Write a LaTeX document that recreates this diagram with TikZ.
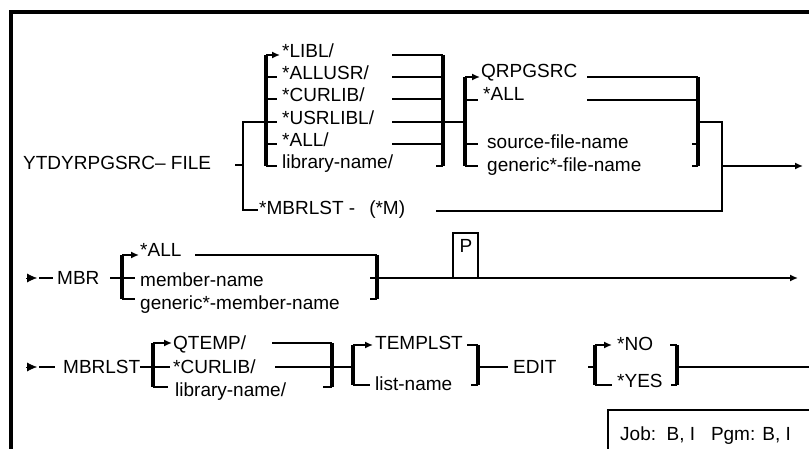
\documentclass[tikz,border=0pt]{standalone}
\usepackage{fontspec}
\setmainfont{Liberation Sans}
\usetikzlibrary{arrows.meta}
\tikzset{>={Latex[length=8pt,width=7pt]}}
\tikzstyle{rail}=[line width=1.5pt]
\tikzstyle{bar}=[line width=3.6pt]
\tikzstyle{frame}=[line width=3.2pt]
\tikzstyle{opt}=[anchor=base west,inner sep=0pt]
\tikzstyle{entry}=[-{Latex[length=10pt,width=9pt]}]

\begin{document}
\begin{tikzpicture}[x=1pt,y=-1pt,font=\fontsize{19}{21}\selectfont]
  \useasboundingbox (0,0) rectangle (809,449);
  % frame round the diagram
  \draw[frame] (11,449) -- (11,12) -- (809,12);

  %%% first line : FILE
  \node[opt] (cmd) at (23,170) {YTDYRPGSRC– FILE};
  \coordinate (fork) at (243,165);
  \coordinate (lib) at (266,122);
  \coordinate (mfork) at (258,210);
  \draw[rail] (235,165) -- (fork);
  \draw[rail] (lib) -| (fork) |- (mfork);
  % library list
  \draw[bar] (266,55) -- (266,166);
  \draw[rail,->] (266,55) -- (280,55);
  \foreach \y in {77,99,122,144,166} \draw[rail] (266,\y) -- (277,\y);
  \foreach \y/\t [count=\i] in {55/{*LIBL/},77/{*ALLUSR/},99/{*CURLIB/},122/{*USRLIBL/},144/{*ALL/},166/{library-name/}}
    \node[opt] (lib\i) at (282,\y+3) {\t};
  \foreach \y in {55,77,99,122,144} \draw[rail] (392,\y) -- (443,\y);
  \draw[rail] (436,166) -- (443,166);
  \draw[bar] (443,55) -- (443,166);
  \draw[rail] (443,122) -- (465,122);
  % source file
  \draw[bar] (465,77) -- (465,166);
  \draw[rail,->] (465,77) -- (480,77);
  \foreach \y in {100,144,166} \draw[rail] (465,\y) -- (478,\y);
  \node[opt] (qrpg) at (481,78) {QRPGSRC};
  \node[opt] (fall) at (483,101) {*ALL};
  \node[opt] (srcf) at (487,149) {source-file-name};
  \node[opt] (genf) at (487,172) {generic*-file-name};
  \foreach \y in {77,100} \draw[rail] (587,\y) -- (698,\y);
  \foreach \y in {144,166} \draw[rail] (692,\y) -- (698,\y);
  \draw[bar] (698,77) -- (698,166);
  % member list path
  \node[opt] (mlst) at (259,215) {*MBRLST -\hspace{14pt}(*M)};
  \coordinate (join) at (722,166);
  \coordinate (end1) at (803,166);
  \draw[rail] (698,122) -| (join) |- (436,211);
  \draw[rail,->] (join) -- (end1);

  %%% second line : MBR
  \coordinate (in2) at (26,278);
  \draw[entry] (in2) -- (37,278);
  \draw[rail] (39,278) -- (53,278);
  \node[opt] (mbr) at (57,285) {MBR};
  \draw[rail] (110,278) -- (135,278);
  \draw[bar] (122,255) -- (122,299);
  \draw[rail,->] (122,255) -- (139,255);
  \draw[rail] (122,299) -- (135,299);
  \node[opt] (mall) at (140,257) {*ALL};
  \node[opt] (mnam) at (140,287) {member-name};
  \node[opt] (mgen) at (140,309) {generic*-member-name};
  \draw[rail] (195,255) -- (377,255);
  \draw[rail] (370,299) -- (377,299);
  \draw[bar] (377,255) -- (377,299);
  \coordinate (end2) at (798,278);
  \draw[rail,->] (370,278) -- (end2);
  % P box on the line
  \draw[rail] (453,278) |- (478,233) -- (478,278);
  \node[anchor=base,inner sep=0pt] (p) at (466,253) {P};

  %%% third line : MBRLST
  \coordinate (in3) at (26,367);
  \draw[entry] (in3) -- (37,367);
  \draw[rail] (39,367) -- (55,367);
  \node[opt] (mbrlst) at (63,373) {MBRLST};
  \draw[rail] (140,367) -- (170,367);
  \draw[bar] (153,343) -- (153,387);
  \draw[rail,->] (153,343) -- (172,343);
  \draw[rail] (153,387) -- (168,387);
  \node[opt] (qtmp) at (173,349) {QTEMP/};
  \node[opt] (cur) at (173,373) {*CURLIB/};
  \node[opt] (lnam) at (175,396) {library-name/};
  \draw[rail] (272,343) -- (332,343);
  \draw[rail] (275,367) -- (353,367);
  \draw[rail] (323,387) -- (332,387);
  \draw[bar] (332,343) -- (332,387);
  % list name
  \draw[bar] (353,345) -- (353,385);
  \draw[rail,->] (353,345) -- (373,345);
  \draw[rail] (353,385) -- (370,385);
  \node[opt] (tmpl) at (375,349) {TEMPLST};
  \node[opt] (lst) at (375,390) {list-name};
  \draw[rail] (467,345) -- (478,345);
  \draw[rail] (471,385) -- (478,385);
  \draw[bar] (478,345) -- (478,385);
  \draw[rail] (478,367) -- (508,367);
  \node[opt] (edit) at (513,373) {EDIT};
  % edit yes / no
  \draw[rail] (588,367) -- (595,367);
  \draw[bar] (595,345) -- (595,385);
  \draw[rail,->] (595,345) -- (612,345);
  \draw[rail] (595,385) -- (612,385);
  \node[opt] (no) at (617,350) {*NO};
  \node[opt] (yes) at (617,387) {*YES};
  \draw[rail] (670,345) -- (677,345);
  \draw[rail] (671,385) -- (677,385);
  \draw[bar] (677,345) -- (677,385);
  \coordinate (end3) at (809,367);
  \draw[rail] (677,367) -- (end3);

  % level box
  \draw[rail] (608,449) |- (809,410);
  \node[opt] (lvl) at (620,440) {Job:\ \ B, I\ \ \ Pgm: B, I};
\end{tikzpicture}
\end{document}
